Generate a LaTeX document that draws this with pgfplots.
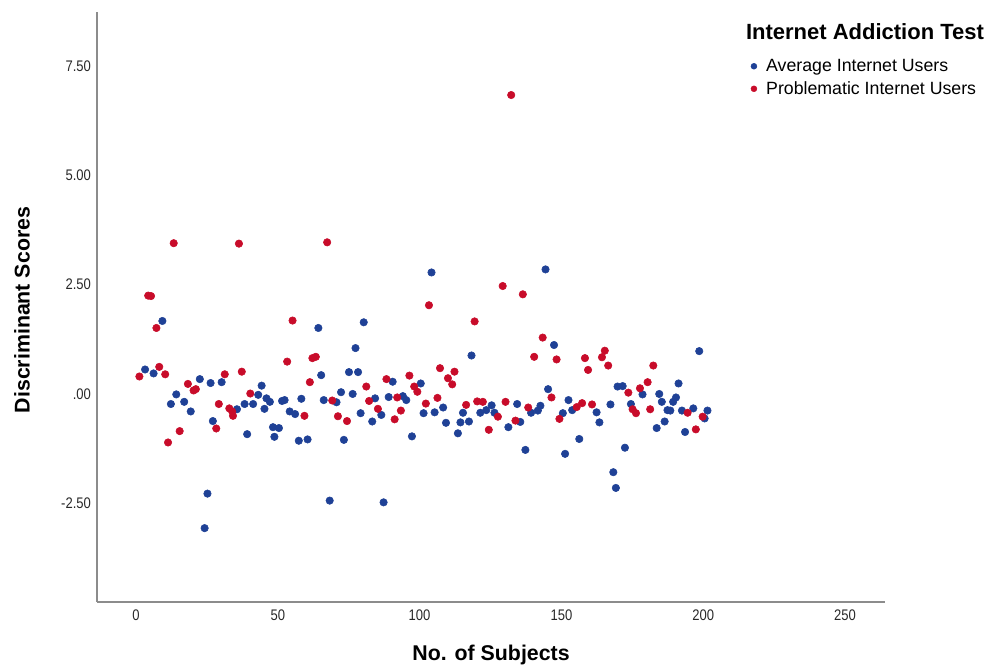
\documentclass[border=0pt]{standalone}
\usepackage{fontspec}
\setmainfont{Liberation Sans}
\newfontfamily\narrowsans[FakeStretch=0.85]{Liberation Sans}
\usepackage{pgfplots}
\pgfplotsset{compat=1.18}

\definecolor{avgblue}{RGB}{31,65,150}
\definecolor{probred}{RGB}{200,12,42}
\definecolor{axgray}{RGB}{140,140,140}
\definecolor{ticktext}{RGB}{40,40,40}

\begin{document}
\begin{tikzpicture}
\useasboundingbox (-72.75pt,-48pt) rectangle (669pt,451.5pt);
\begin{axis}[
  scale only axis,
  width=591pt, height=442.5pt,
  xmin=-13.75, xmax=264.1,
  ymin=-4.76, ymax=8.74,
  axis x line=bottom, axis y line=left,
  axis line style={-, axgray, line width=1.5pt},
  major tick length=0pt,
  xtick={0,50,100,150,200,250},
  ytick={-2.5,0,2.5,5,7.5},
  yticklabels={-2.50,.00,2.50,5.00,7.50},
  /pgf/number format/assume math mode=true,
  tick label style={font=\narrowsans\fontsize{11.5}{13}\selectfont, text=ticktext},
  xticklabel style={yshift=-2pt},
  yticklabel style={xshift=-1pt},
  legend cell align=left,
  legend style={at={(rel axis cs:0.8296,0.925)}, anchor=north west,
    draw=none, fill=none, font=\fontsize{13.3}{15}\selectfont,
    row sep=2pt, column sep=5pt, inner sep=0pt},
  legend image post style={mark size=2.2pt},
  clip=false,
]
\addplot[only marks, mark=*, mark size=2.8pt, color=avgblue] coordinates {
(3.2,0.56)(6.2,0.47)(9.3,1.67)(12.3,-0.23)(14.2,-0.01)(17.0,-0.18)(19.3,-0.40)
(22.5,0.34)(24.2,-3.07)(25.2,-2.28)(26.3,0.25)(27.1,-0.62)(30.2,0.27)(35.6,-0.35)
(38.3,-0.23)(39.2,-0.92)(41.3,-0.23)(43.1,-0.02)(44.3,0.19)(45.3,-0.34)(46.0,-0.10)
(47.2,-0.18)(48.3,-0.76)(50.4,-0.78)(48.8,-0.98)
(51.5,-0.16)(52.4,-0.14)(54.2,-0.40)(56.1,-0.46)(57.4,-1.07)(58.3,-0.11)(60.5,-1.04)
(64.3,1.51)(65.3,0.43)(66.2,-0.14)(68.3,-2.44)(70.7,-0.19)(72.3,0.04)(73.3,-1.05)
(75.1,0.50)(76.4,0.00)(77.4,1.05)(78.3,0.50)(79.2,-0.44)(80.3,1.64)(83.3,-0.63)
(84.3,-0.10)(86.5,-0.48)(87.3,-2.48)(89.1,-0.07)(90.5,0.28)(94.1,-0.05)(95.3,-0.14)
(97.3,-0.97)(100.4,0.24)(101.4,-0.44)(104.2,2.78)(105.3,-0.42)(108.3,-0.31)(109.3,-0.66)
(113.5,-0.90)(114.4,-0.65)(115.3,-0.43)(117.4,-0.63)(118.3,0.88)(121.4,-0.43)(123.5,-0.37)
(125.4,-0.26)(126.4,-0.43)(131.3,-0.76)(134.4,-0.23)(135.5,-0.64)(137.3,-1.28)(139.3,-0.43)
(141.7,-0.38)(142.6,-0.27)(144.4,2.85)(145.3,0.11)(147.4,1.12)(150.5,-0.44)(151.3,-1.37)
(152.5,-0.14)(153.8,-0.37)(156.3,-1.03)(162.4,-0.42)(163.4,-0.65)(167.3,-0.24)(168.3,-1.79)
(169.2,-2.15)(169.8,0.17)
(171.6,0.18)(172.4,-1.23)(174.5,-0.23)(178.6,-0.01)(183.6,-0.78)(184.5,0.00)(185.4,-0.18)
(186.4,-0.63)(187.4,-0.37)(188.4,-0.38)(189.4,-0.18)(190.4,-0.08)(191.3,0.24)(192.5,-0.38)
(193.6,-0.87)(196.5,-0.33)(198.6,0.98)(200.5,-0.56)(201.5,-0.38)
};
\addlegendentry{Average Internet Users}
\addplot[only marks, mark=*, mark size=2.8pt, color=probred] coordinates {
(1.2,0.40)(4.3,2.25)(5.3,2.24)(7.2,1.51)(8.2,0.62)(10.3,0.45)(11.3,-1.11)(13.3,3.45)
(15.4,-0.85)(18.3,0.23)(20.3,0.08)(21.1,0.11)(28.3,-0.79)(29.2,-0.23)(31.3,0.45)
(32.9,-0.33)(33.9,-0.40)(34.2,-0.50)(36.3,3.44)(37.3,0.51)(40.3,0.01)
(53.3,0.74)(55.2,1.68)(59.4,-0.50)(61.3,0.27)(62.2,0.82)(63.4,0.85)(67.4,3.47)
(69.2,-0.15)(71.2,-0.51)(74.4,-0.62)(81.2,0.17)(82.2,-0.16)(85.3,-0.34)(88.3,0.34)
(91.2,-0.58)(92.1,-0.08)(93.4,-0.38)(96.4,0.42)(98.1,0.17)(99.2,0.05)(102.2,-0.22)
(103.3,2.03)(106.3,-0.09)(107.2,0.59)(110.0,0.36)
(111.5,0.22)(112.3,0.51)(116.4,-0.25)(119.4,1.66)(120.3,-0.17)(122.3,-0.18)(124.4,-0.82)
(127.6,-0.52)(129.3,2.47)(130.3,-0.18)(132.3,6.84)(133.8,-0.61)(136.4,2.28)(138.3,-0.31)
(140.4,0.85)(143.4,1.29)(146.5,-0.08)(148.3,0.79)(149.3,-0.57)(155.4,-0.30)(157.3,-0.21)
(158.3,0.82)(159.4,0.55)(160.8,-0.24)(164.3,0.84)(165.3,0.99)(166.5,0.65)
(173.6,0.03)(175.1,-0.35)(176.3,-0.44)(177.7,0.13)(180.4,0.27)(181.3,-0.35)(182.4,0.65)
(194.5,-0.43)(197.4,-0.81)(199.8,-0.52)
};
\addlegendentry{Problematic Internet Users}
\node[font=\bfseries\fontsize{16.5}{19}\selectfont, anchor=center]
  at (rel axis cs:0.9746,0.966) {Internet Addiction Test};
\end{axis}
\node[font=\bfseries\fontsize{16}{19}\selectfont, anchor=center] at (295.5pt,-39.75pt) {No. of Subjects};
\node[font=\bfseries\fontsize{16}{19}\selectfont, anchor=center, rotate=90] at (-56.25pt,219pt) {Discriminant Scores};
\end{tikzpicture}
\end{document}
